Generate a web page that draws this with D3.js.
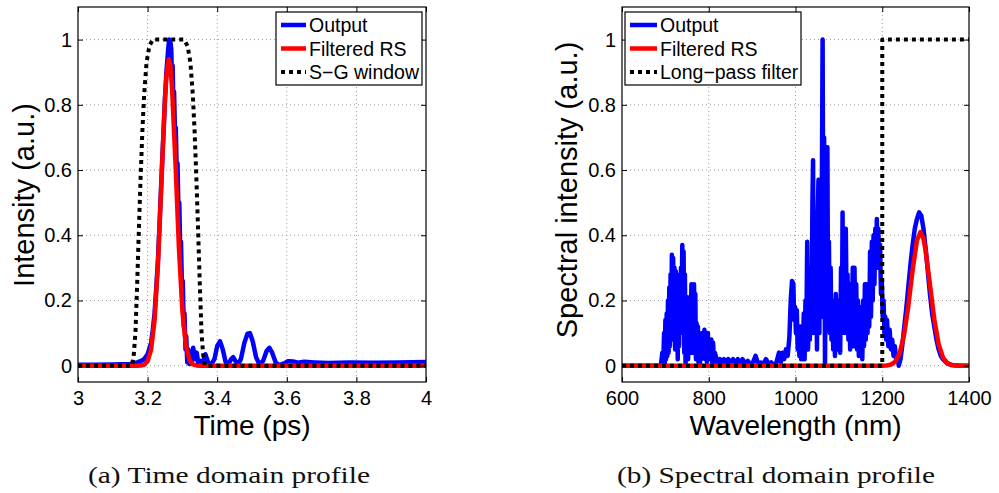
<!DOCTYPE html>
<html><head><meta charset="utf-8">
<script src="https://cdn.jsdelivr.net/npm/d3@7"></script>
<style>body{margin:0;background:#fff}svg{display:block}</style>
</head><body>
<svg id="chart" width="999" height="493"></svg>
<script>
// ---------- DATA ----------
const timeTicks = [3, 3.2, 3.4, 3.6, 3.8, 4];
const timeTickLabels = ["3", "3.2", "3.4", "3.6", "3.8", "4"];
const wlTicks = [600, 800, 1000, 1200, 1400];
const wlTickLabels = ["600", "800", "1000", "1200", "1400"];
const intensityTicks = [0, 0.2, 0.4, 0.6, 0.8, 1];
const intensityTickLabels = ["0", "0.2", "0.4", "0.6", "0.8", "1"];

const timeLegend = ["Output", "Filtered RS", "S\u2212G window"];
const specLegend = ["Output", "Filtered RS", "Long\u2212pass filter"];
const captions = ["(a)  Time domain profile", "(b)  Spectral domain profile"];

// Time domain: [time (ps), intensity]
const timeOutput = [[3.00,0.003],[3.05,0.003],[3.10,0.004],[3.15,0.005],[3.17,0.01],[3.18,0.014],[3.19,0.02],[3.20,0.035],[3.21,0.07],[3.215,0.11],[3.22,0.16],[3.225,0.24],[3.23,0.33],[3.235,0.45],[3.24,0.58],[3.245,0.7],[3.25,0.82],[3.254,0.9],[3.257,0.94],[3.259,0.97],[3.262,1.0],[3.264,0.95],[3.266,0.99],[3.268,0.97],[3.270,0.88],[3.272,0.92],[3.274,0.8],[3.276,0.84],[3.279,0.7],[3.281,0.73],[3.284,0.58],[3.286,0.62],[3.289,0.46],[3.291,0.5],[3.294,0.34],[3.296,0.38],[3.299,0.22],[3.301,0.26],[3.304,0.12],[3.306,0.16],[3.309,0.05],[3.311,0.09],[3.314,0.01],[3.317,0.05],[3.32,0.005],[3.323,0.03],[3.326,0.01],[3.331,0.055],[3.336,0.02],[3.341,0.04],[3.346,0.005],[3.352,0.015],[3.358,0.005],[3.366,0.035],[3.374,0.01],[3.382,0.003],[3.392,0.02],[3.400,0.06],[3.408,0.075],[3.416,0.05],[3.424,0.012],[3.432,0.004],[3.440,0.02],[3.446,0.026],[3.452,0.015],[3.460,0.004],[3.468,0.02],[3.478,0.07],[3.487,0.098],[3.494,0.1],[3.502,0.075],[3.512,0.025],[3.522,0.003],[3.532,0.015],[3.542,0.045],[3.550,0.055],[3.558,0.04],[3.568,0.01],[3.578,0.002],[3.590,0.006],[3.605,0.014],[3.618,0.013],[3.632,0.009],[3.65,0.012],[3.68,0.01],[3.72,0.008],[3.78,0.01],[3.85,0.009],[3.92,0.01],[4.0,0.011]];

const timeFiltered = [[3.00,0],[3.15,0],[3.17,0.0001],[3.18,0.0006],[3.19,0.003],[3.20,0.014],[3.21,0.049],[3.22,0.14],[3.23,0.316],[3.24,0.57],[3.25,0.82],[3.255,0.902],[3.261,0.94],[3.265,0.923],[3.27,0.857],[3.28,0.624],[3.29,0.362],[3.30,0.168],[3.31,0.062],[3.32,0.018],[3.33,0.004],[3.34,0.0008],[3.35,0.0001],[3.36,0],[4.0,0]];

const timeWindow = [[3.0,0],[3.155,0],[3.16,0.03],[3.165,0.1],[3.17,0.25],[3.175,0.42],[3.18,0.58],[3.185,0.72],[3.19,0.83],[3.197,0.93],[3.205,0.98],[3.215,1],[3.305,1],[3.315,0.98],[3.323,0.93],[3.33,0.83],[3.335,0.72],[3.34,0.58],[3.345,0.42],[3.35,0.25],[3.355,0.1],[3.36,0.03],[3.365,0],[4.0,0]];

// Spectral domain: [wavelength (nm), intensity]
const specOutput = [[600,0],[650,0],[685,0],[690,0.005],[693,0.04],[695,0.0],[697,0.1],[698.5,0.0],[700,0.14],[701.5,0.02],[703,0.16],[704.5,0.03],[706,0.2],[707.5,0.04],[709,0.24],[710.5,0.06],[712,0.28],[713.5,0.1],[715,0.34],[716.5,0.12],[718,0.33],[719.5,0.08],[721,0.3],[722.5,0.05],[724,0.29],[725.5,0.12],[727,0.28],[728.5,0.02],[730,0.26],[731.5,0.06],[733,0.22],[734.5,0.1],[736,0.3],[737.5,0.14],[739,0.37],[740.5,0.1],[742,0.35],[743.5,0.04],[745,0.28],[746.5,0.0],[748,0.2],[749.5,0.05],[751,0.21],[752.5,0.02],[754,0.2],[755.5,0.06],[757,0.15],[758.5,0.1],[760,0.25],[761.5,0.04],[763,0.24],[764.5,0.12],[766,0.25],[767.5,0.1],[769,0.22],[770.5,0.02],[772,0.13],[773.5,0.04],[775,0.12],[776.5,0.01],[778,0.1],[779.5,0.0],[781,0.06],[783,0.02],[785,0.1],[787,0.04],[790,0.11],[792,0.02],[794,0.09],[796,0.01],[798,0.1],[800,0.02],[802,0.08],[804,0.03],[806,0.08],[808,0.01],[810,0.07],[812,0.01],[814,0.04],[818,0.02],[822,0.005],[826,0.02],[830,0.01],[835,0.02],[840,0.005],[845,0.02],[850,0.01],[856,0.02],[862,0.005],[867,0.02],[872,0.005],[878,0.02],[884,0.005],[890,0.015],[896,0.005],[902,0.01],[908,0.03],[914,0.005],[920,0.01],[926,0.005],[932,0.02],[938,0.005],[944,0.01],[950,0.0],[956,0.01],[962,0.04],[966,0.01],[970,0.04],[974,0.02],[978,0.05],[982,0.03],[986,0.09],[989,0.2],[992,0.26],[995,0.25],[997,0.14],[999,0.18],[1001,0.1],[1003,0.17],[1005,0.05],[1007,0.1],[1009,0.03],[1011,0.12],[1013,0.02],[1015,0.08],[1017,0.02],[1019,0.16],[1021,0.02],[1023,0.2],[1025,0.1],[1027,0.38],[1029,0.05],[1031,0.25],[1033,0.08],[1035,0.3],[1037,0.1],[1039,0.5],[1040.5,0.63],[1042,0.1],[1044,0.35],[1046,0.1],[1048,0.4],[1049.5,0.05],[1051,0.45],[1053,0.57],[1055,0.1],[1057,0.5],[1059,0.15],[1061,0.6],[1062.5,1.0],[1064,0.4],[1066,0.7],[1068,0.0],[1070,0.4],[1072,0.15],[1073.5,0.67],[1075,0.2],[1077,0.38],[1079,0.1],[1081,0.3],[1083,0.08],[1085,0.2],[1087,0.05],[1089,0.15],[1091,0.03],[1093,0.22],[1095,0.06],[1097,0.2],[1099,0.05],[1101,0.15],[1103,0.04],[1105,0.3],[1107,0.1],[1108.5,0.47],[1110,0.12],[1112,0.3],[1114,0.1],[1116,0.42],[1118,0.15],[1120,0.28],[1122,0.08],[1124,0.25],[1126,0.05],[1128,0.22],[1130,0.1],[1132,0.3],[1134,0.06],[1136,0.3],[1138,0.1],[1140,0.25],[1142,0.05],[1144,0.2],[1146,0.03],[1148,0.18],[1150,0.05],[1152,0.15],[1154,0.02],[1156,0.2],[1158,0.06],[1160,0.25],[1162,0.08],[1164,0.25],[1166,0.1],[1168,0.2],[1170,0.12],[1172,0.35],[1174,0.15],[1176,0.38],[1178,0.2],[1180,0.4],[1182,0.25],[1184,0.42],[1186,0.3],[1187.5,0.45],[1189,0.32],[1191,0.42],[1193,0.3],[1195,0.37],[1197,0.22],[1199,0.26],[1201,0.15],[1203,0.2],[1205,0.1],[1207,0.15],[1209,0.08],[1211,0.14],[1214,0.06],[1217,0.11],[1220,0.05],[1223,0.08],[1226,0.03],[1229,0.06],[1232,0.02],[1235,0.03],[1238,0.0],[1242,0.02],[1246,0.06],[1250,0.11],[1255,0.17],[1260,0.24],[1265,0.31],[1270,0.37],[1275,0.42],[1280,0.45],[1285,0.47],[1290,0.46],[1295,0.42],[1300,0.36],[1305,0.29],[1310,0.22],[1315,0.16],[1320,0.12],[1325,0.08],[1330,0.05],[1335,0.03],[1340,0.02],[1350,0.007],[1360,0.002],[1380,0],[1400,0]];

const specFiltered = [[600,0],[1190,0],[1200,0.0001],[1210,0.0008],[1220,0.0034],[1230,0.0127],[1240,0.038],[1250,0.092],[1260,0.182],[1270,0.293],[1280,0.384],[1288,0.41],[1295,0.39],[1300,0.353],[1310,0.249],[1320,0.142],[1330,0.066],[1340,0.025],[1350,0.0077],[1360,0.0019],[1370,0.0004],[1380,0],[1400,0]];

const specLongPass = [[600,0],[1200,0],[1200,1],[1400,1]];

// ---------- DRAWING ----------
const svg = d3.select("#chart");
const FONT = "'Liberation Sans', Arial, Helvetica, sans-serif";
const BLUE = "#0000ff", RED = "#ff0000", BLACK = "#000";

function panel(opts) {
  const {id, xDomain, xRange, xTicks, xLabels, series, legend, legendBox, xTitle, yTitle, yTitlePos, caption, capX} = opts;
  const top = 7, bottom = 382;
  const x = d3.scaleLinear().domain(xDomain).range(xRange);
  const y = d3.scaleLinear().domain([-0.05, 1.1]).range([bottom, top]);
  const g = svg.append("g");

  g.append("clipPath").attr("id", "clip" + id).append("rect")
    .attr("x", xRange[0]).attr("y", top).attr("width", xRange[1] - xRange[0]).attr("height", bottom - top);

  // grid
  const grid = g.append("g").attr("stroke", "#9a9a9a").attr("stroke-width", 1).attr("stroke-dasharray", "1,3");
  xTicks.slice(1, -1).forEach(t => grid.append("line").attr("x1", x(t)).attr("x2", x(t)).attr("y1", top).attr("y2", bottom));
  intensityTicks.forEach(t => grid.append("line").attr("x1", xRange[0]).attr("x2", xRange[1]).attr("y1", y(t)).attr("y2", y(t)));

  // series
  const line = d3.line().x(d => x(d[0])).y(d => y(d[1]));
  const sg = g.append("g").attr("clip-path", `url(#clip${id})`);
  series.forEach(s => {
    sg.append("path").datum(s.data).attr("d", line).attr("fill", "none")
      .attr("stroke", s.color).attr("stroke-width", s.width)
      .attr("stroke-dasharray", s.dash || null).attr("stroke-linejoin", "round");
  });

  // axes
  const fmtX = d => xLabels[xTicks.indexOf(d)];
  const fmtY = d => intensityTickLabels[intensityTicks.indexOf(d)];
  const ax = (sel) => { sel.select(".domain").remove(); sel.selectAll("text").attr("font-family", FONT).attr("font-size", 20).attr("fill", "#000"); sel.selectAll("line").attr("stroke", "#000"); };
  g.append("g").attr("transform", `translate(0,${bottom})`).call(d3.axisBottom(x).tickValues(xTicks).tickFormat(fmtX).tickSize(-5).tickPadding(9)).call(ax);
  g.append("g").attr("transform", `translate(0,${top})`).call(d3.axisTop(x).tickValues(xTicks).tickFormat("").tickSize(-5)).call(ax);
  g.append("g").attr("transform", `translate(${xRange[0]},0)`).call(d3.axisLeft(y).tickValues(intensityTicks).tickFormat(fmtY).tickSize(-5).tickPadding(6)).call(ax);
  g.append("g").attr("transform", `translate(${xRange[1]},0)`).call(d3.axisRight(y).tickValues(intensityTicks).tickFormat("").tickSize(-5)).call(ax);

  g.append("rect").attr("x", xRange[0]).attr("y", top).attr("width", xRange[1] - xRange[0]).attr("height", bottom - top)
    .attr("fill", "none").attr("stroke", "#000").attr("stroke-width", 1.2);

  // legend
  const lg = g.append("g");
  lg.append("rect").attr("x", legendBox.x).attr("y", legendBox.y).attr("width", legendBox.w).attr("height", legendBox.h)
    .attr("fill", "#fff").attr("stroke", "#000").attr("stroke-width", 1.2);
  legend.forEach((name, i) => {
    const cy = legendBox.y + 13 + i * 23.5;
    const s = series[i];
    lg.append("line").attr("x1", legendBox.x + 5).attr("x2", legendBox.x + legendBox.lineLen + 5).attr("y1", cy).attr("y2", cy)
      .attr("stroke", s.color).attr("stroke-width", s.width).attr("stroke-dasharray", s.dash || null);
    lg.append("text").attr("x", legendBox.x + legendBox.lineLen + 8).attr("y", cy + 7).text(name)
      .attr("font-family", FONT).attr("font-size", 19.5).attr("fill", "#000");
  });

  // titles
  g.append("text").attr("x", (xRange[0] + xRange[1]) / 2).attr("y", 435).attr("text-anchor", "middle")
    .attr("font-family", FONT).attr("font-size", 28).text(xTitle);
  g.append("text").attr("transform", `translate(${yTitlePos[0]},${yTitlePos[1]}) rotate(-90)`).attr("text-anchor", "middle")
    .attr("font-family", FONT).attr("font-size", 29).text(yTitle);
  g.append("text").attr("x", capX).attr("y", 483).attr("text-anchor", "middle")
    .attr("font-family", "'Liberation Serif', 'Times New Roman', serif").attr("font-size", 24).attr("fill", "#111")
    .attr("textLength", caption.len).attr("lengthAdjust", "spacingAndGlyphs").text(caption.text);
}

panel({
  id: "a", xDomain: [3, 4], xRange: [78, 426], xTicks: timeTicks, xLabels: timeTickLabels,
  series: [
    {data: timeOutput, color: BLUE, width: 4.5},
    {data: timeFiltered, color: RED, width: 4.5},
    {data: timeWindow, color: BLACK, width: 4, dash: "4,4"}
  ],
  legend: timeLegend, legendBox: {x: 276, y: 12, w: 146, h: 73, lineLen: 25},
  xTitle: "Time (ps)", yTitle: "Intensity (a.u.)", yTitlePos: [34, 195],
  caption: {text: captions[0], len: 282}, capX: 229
});

panel({
  id: "b", xDomain: [600, 1400], xRange: [622, 969], xTicks: wlTicks, xLabels: wlTickLabels,
  series: [
    {data: specOutput, color: BLUE, width: 4.5},
    {data: specFiltered, color: RED, width: 4.5},
    {data: specLongPass, color: BLACK, width: 4, dash: "4,4"}
  ],
  legend: specLegend, legendBox: {x: 625, y: 12, w: 176, h: 73, lineLen: 27},
  xTitle: "Wavelength (nm)", yTitle: "Spectral intensity (a.u.)", yTitlePos: [577, 190],
  caption: {text: captions[1], len: 318}, capX: 776
});
</script>
</body></html>
